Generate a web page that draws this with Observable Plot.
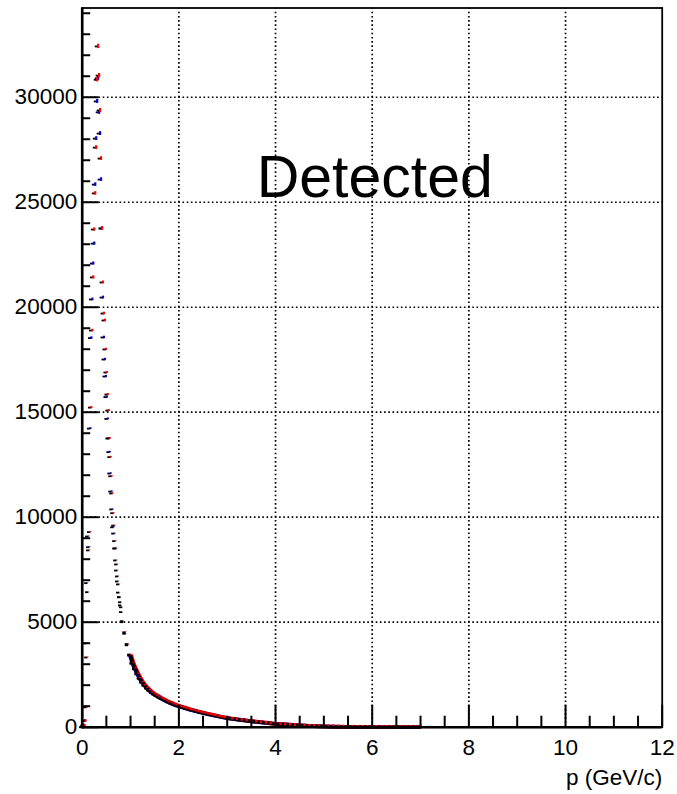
<!DOCTYPE html>
<html><head><meta charset="utf-8">
<script src="https://cdn.jsdelivr.net/npm/d3@7"></script>
<script src="https://cdn.jsdelivr.net/npm/@observablehq/plot@0.6"></script>
<style>body{margin:0;background:#fff} svg{display:block}</style>
</head><body><div id="chart"></div>
<script>
// Bin centers (GeV/c) and counts
const pA = [0.01,0.03,0.05,0.07,0.09,0.11,0.13,0.15,0.17,0.19,0.21,0.23,0.25,0.27,0.29,0.31,0.33,0.35,0.37,0.39,0.41,0.43,0.45,0.47,0.49,0.51,0.53,0.55,0.57,0.59,0.61,0.63,0.65,0.67,0.69,0.71,0.73,0.75,0.77,0.79,0.81,0.83,0.85];
const redA = [0,10,60,300,950,3320,6430,8420,9290,15220,18890,21420,23700,25420,27600,30830,32420,31030,29370,27080,23750,21180,19700,19370,17990,16890,15840,15080,13750,12860,11950,11130,10190,9600,8860,8510,7750,7180,6800,6190,5950,5710,5050];
const blueA = [0,80,300,950,3990,6860,9080,8570,14220,18530,20370,22080,23030,25840,28030,29800,30900,29280,28270,26080,23750,20460,18560,17510,16700,15720,14680,13750,13100,12080,11220,10370,9520,9220,8510,7940,7460,6940,6410,6190,5800,5480,5000];

const pB = [0.90,0.95,1.00,1.05,1.10,1.15,1.20,1.25,1.30,1.35,1.40,1.45,1.50,1.55,1.60,1.65,1.70,1.75,1.80,1.85,1.90,1.95,2.00,2.05,2.10,2.15,2.20,2.25,2.30,2.35,2.40,2.45,2.50,2.55,2.60,2.65,2.70,2.75,2.80,2.85,2.90,2.95,3.00];
const redB = [4520,3960,3460,3070,2800,2560,2340,2150,2000,1870,1760,1660,1580,1510,1440,1375,1315,1255,1200,1150,1100,1055,1015,978,942,907,872,840,808,777,747,717,690,662,636,610,585,560,534,508,484,462,441];
const blueB = [4450,3900,3410,3020,2760,2520,2300,2120,1970,1840,1735,1635,1555,1485,1418,1355,1295,1237,1182,1133,1084,1040,1000,963,928,893,859,827,796,765,736,706,680,652,626,601,576,552,526,500,477,455,434];

const pC = [3.1,3.2,3.3,3.4,3.5,3.6,3.7,3.8,3.9,4.0,4.1,4.2,4.3,4.4,4.5,4.6,4.7,4.8,4.9,5.0,5.1,5.2,5.3,5.4,5.5,5.6,5.7,5.8,5.9,6.0,6.1,6.2,6.3,6.4,6.5,6.6,6.7,6.8,6.9,7.0];
const redC = [405,375,345,315,287,262,237,212,187,162,146,131,116,101,86,73,63,53,43,36,30,25,21,17,14,12,10,8,6,5,4,3,3,2,2,1,1,1,0,0];
const blueC = [398,369,340,310,283,258,233,208,184,159,143,128,114,99,84,71,61,51,42,35,29,24,20,16,13,11,9,7,6,5,4,3,2,2,1,1,1,0,0,0];

const xMajor = [0,2,4,6,8,10,12];
const xMinor = [0.5,1,1.5,2.5,3,3.5,4.5,5,5.5,6.5,7,7.5,8.5,9,9.5,10.5,11,11.5];
const xGrid = [2,4,6,8,10];
const yMajor = [0,5000,10000,15000,20000,25000,30000];
const yMinor = [1000,2000,3000,4000,6000,7000,8000,9000,11000,12000,13000,14000,16000,17000,18000,19000,21000,22000,23000,24000,26000,27000,28000,29000,31000,32000,33000,34000];
const yGrid = [5000,10000,15000,20000,25000,30000];
const titleText = "Detected";
const xLabel = "p (GeV/c)";

const RED = "#ff0000", BLUE = "#0000dd";
const rows = (p, v) => p.map((x, i) => ({p: x, v: v[i]}));
const red = [...rows(pA, redA), ...rows(pB, redB), ...rows(pC, redC)];
const blue = [...rows(pA, blueA), ...rows(pB, blueB), ...rows(pC, blueC)];
const redTail = rows([...pB, ...pC], [...redB, ...redC]).filter(d => d.p >= 1.0);
const blueTail = rows([...pB, ...pC], [...blueB, ...blueC]).filter(d => d.p >= 1.0);

const dash = {draw(ctx) { ctx.moveTo(-3.4,-0.9); ctx.lineTo(0,-0.9); ctx.lineTo(0,0.9); ctx.lineTo(-3.4,0.9); ctx.closePath(); }};

const W = 677, H = 794, mL = 81.7, mR = 15.3, mT = 7.5, mB = 67.3;
const plotW = W - mL - mR, plotH = H - mT - mB;
const FS = 22.5;
const dotted = {stroke: "black", strokeWidth: 1.7, strokeDasharray: "1.6,2.6"};

const errBars = (data, color) => Plot.ruleX(data, {x: "p", y1: d => d.v - Math.sqrt(d.v), y2: d => d.v + Math.sqrt(d.v), stroke: color, strokeWidth: 2.2, insetTop: -1.6, insetBottom: -1.6});
const dashes = data => Plot.dot(data, {x: "p", y: "v", symbol: dash, fill: "black", stroke: "none", r: 2});

const chart = Plot.plot({
  width: W, height: H,
  marginLeft: mL, marginRight: mR, marginTop: mT, marginBottom: mB,
  x: {domain: [0, 12], axis: null},
  y: {domain: [0, 34250], axis: null},
  style: {fontFamily: "'Liberation Sans', Arial, Helvetica, sans-serif", background: "white", color: "black"},
  marks: [
    Plot.ruleX(xGrid, dotted),
    Plot.ruleY(yGrid, dotted),
    Plot.line(blueTail, {x: "p", y: "v", stroke: BLUE, strokeWidth: 3.8, dx: -0.5, strokeLinecap: "butt"}),
    Plot.line(redTail, {x: "p", y: "v", stroke: RED, strokeWidth: 3.8, dx: 0.5, strokeLinecap: "butt"}),
    Plot.line(blueTail, {x: "p", y: "v", stroke: "black", strokeWidth: 3.4, strokeLinecap: "butt"}),
    dashes(blue),
    errBars(blue, BLUE),
    dashes(red),
    errBars(red, RED),
    Plot.frame({stroke: "black", strokeWidth: 1.8}),
    Plot.ruleX([0], {stroke: "black", strokeWidth: 2.6}),
    Plot.ruleY([0], {stroke: "black", strokeWidth: 2.6}),
    Plot.ruleX(xMajor, {x: d => d, stroke: "black", strokeWidth: 2, insetTop: plotH - 22}),
    Plot.ruleX(xMinor, {x: d => d, stroke: "black", strokeWidth: 2, insetTop: plotH - 11}),
    Plot.ruleY(yMajor, {y: d => d, stroke: "black", strokeWidth: 2, insetRight: plotW - 17}),
    Plot.ruleY(yMinor, {y: d => d, stroke: "black", strokeWidth: 2, insetRight: plotW - 8.5}),
    Plot.text(xMajor, {x: d => d, frameAnchor: "bottom", lineAnchor: "top", dy: 12, text: d => String(d), fontSize: FS, fill: "black"}),
    Plot.text(yMajor, {y: d => d, frameAnchor: "left", textAnchor: "end", lineAnchor: "middle", dx: -5, text: d => String(d), fontSize: FS, fill: "black"}),
    Plot.text([xLabel], {frameAnchor: "bottom-right", textAnchor: "end", lineAnchor: "middle", dy: 51, text: d => d, fontSize: FS, fill: "black"}),
    Plot.text([titleText], {frameAnchor: "top-left", textAnchor: "start", lineAnchor: "middle", dx: 174.5, dy: 170.6, text: d => d, fontSize: 59, fill: "black"})
  ]
});
document.getElementById("chart").appendChild(chart);
</script>
</body></html>
